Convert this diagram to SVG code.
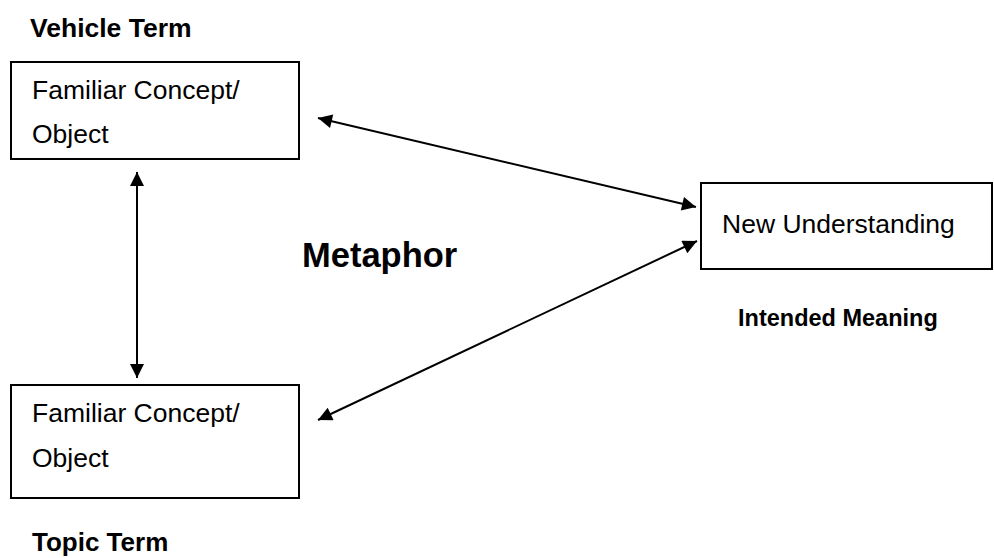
<svg xmlns="http://www.w3.org/2000/svg" width="994" height="558" viewBox="0 0 994 558">
<defs>
<style>
.box{fill:#fff;stroke:#000;stroke-width:2}
.t{font-family:"Liberation Sans",Arial,sans-serif;font-size:26.5px;fill:#000}
.b{font-family:"Liberation Sans",Arial,sans-serif;font-weight:bold;fill:#000}
.c{stroke:#000;stroke-width:2;fill:none;marker-start:url(#ah);marker-end:url(#ah)}
</style>
<marker id="ah" viewBox="0 0 10 10" refX="10" refY="5" markerWidth="8" markerHeight="7" markerUnits="strokeWidth" orient="auto-start-reverse">
<path d="M0,0 L10,5 L0,10 Z" fill="#000"/>
</marker>
</defs>
<rect width="994" height="558" fill="#fff"/>
<text class="b" x="30" y="37" font-size="26.5">Vehicle Term</text>
<g id="vehicle">
<rect class="box" x="11" y="62" width="288" height="97"/>
<text class="t" x="32" y="99">Familiar Concept/</text>
<text class="t" x="32" y="143">Object</text>
</g>
<g id="topic">
<rect class="box" x="11" y="385" width="288" height="113"/>
<text class="t" x="32" y="422">Familiar Concept/</text>
<text class="t" x="32" y="467">Object</text>
</g>
<text class="b" x="32" y="551" font-size="26">Topic Term</text>
<g id="understanding">
<rect class="box" x="701" y="183" width="291" height="86"/>
<text class="t" x="722" y="233">New Understanding</text>
</g>
<text class="b" x="738" y="326" font-size="23.5">Intended Meaning</text>
<text class="b" x="302" y="267" font-size="34.5">Metaphor</text>
<g id="connectors">
<line class="c" x1="137" y1="172" x2="137" y2="378"/>
<line class="c" x1="318" y1="118" x2="696" y2="207"/>
<line class="c" x1="318" y1="420" x2="697" y2="241"/>
</g>
</svg>
